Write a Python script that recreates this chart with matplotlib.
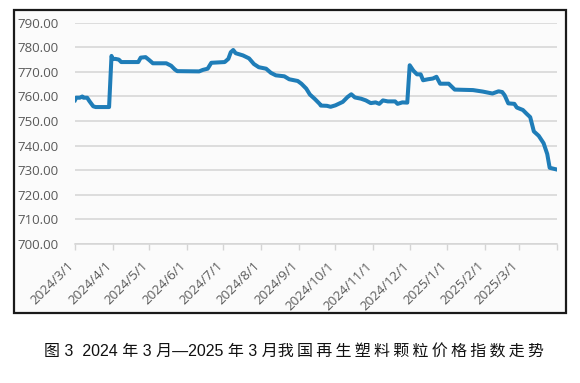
import matplotlib.pyplot as plt
import matplotlib.patches as patches
import matplotlib.transforms as mtransforms
import pandas as pd

# roughly
dates = [
    "2024-03-01", "2024-03-02", "2024-03-05", "2024-03-07", "2024-03-08", "2024-03-11",
    "2024-03-13", "2024-03-16", "2024-03-18", "2024-03-29", "2024-03-31", "2024-04-01",
    "2024-04-03", "2024-04-06", "2024-04-08", "2024-04-22", "2024-04-24", "2024-04-28",
    "2024-05-01", "2024-05-04", "2024-05-15", "2024-05-19", "2024-05-22", "2024-05-24",
    "2024-06-11", "2024-06-14", "2024-06-18", "2024-06-21", "2024-07-02", "2024-07-05",
    "2024-07-07", "2024-07-09", "2024-07-11", "2024-07-17", "2024-07-22", "2024-07-26",
    "2024-07-30", "2024-08-05", "2024-08-09", "2024-08-13", "2024-08-20", "2024-08-24",
    "2024-08-31", "2024-09-03", "2024-09-07", "2024-09-10", "2024-09-14", "2024-09-18",
    "2024-09-19", "2024-09-24", "2024-09-27", "2024-10-01", "2024-10-07", "2024-10-11",
    "2024-10-14", "2024-10-17", "2024-10-22", "2024-10-26", "2024-10-30", "2024-11-03",
    "2024-11-06", "2024-11-09", "2024-11-13", "2024-11-19", "2024-11-21", "2024-11-25",
    "2024-11-29", "2024-12-01", "2024-12-04", "2024-12-07", "2024-12-10", "2024-12-12",
    "2024-12-16", "2024-12-20", "2024-12-23", "2024-12-26", "2025-01-02", "2025-01-07",
    "2025-01-22", "2025-01-30", "2025-02-07", "2025-02-12", "2025-02-15", "2025-02-17",
    "2025-02-20", "2025-02-25", "2025-02-27", "2025-03-04", "2025-03-07", "2025-03-10",
    "2025-03-13", "2025-03-17", "2025-03-21", "2025-03-24", "2025-03-26", "2025-03-31",
]
index_values = [
    758.5, 759.5, 759.5, 760.0, 759.5, 759.5,
    758.0, 756.0, 755.7, 755.7, 776.5, 775.2,
    775.3, 775.0, 774.0, 774.0, 775.8, 776.0,
    774.8, 773.5, 773.5, 772.5, 771.0, 770.3,
    770.2, 770.8, 771.3, 773.7, 774.0, 775.3,
    778.0, 778.9, 777.6, 776.7, 775.5, 773.2,
    771.9, 771.3, 769.6, 768.6, 768.2, 767.0,
    766.3, 765.2, 763.2, 760.8, 759.0, 757.0,
    756.3, 756.2, 755.8, 756.4, 757.8, 759.8,
    760.9, 759.6, 759.1, 758.4, 757.3, 757.6,
    757.0, 758.4, 758.0, 758.0, 757.0, 757.6,
    757.5, 772.7, 770.5, 769.0, 769.0, 766.6,
    767.0, 767.3, 768.0, 765.2, 765.2, 762.8,
    762.6, 762.0, 761.2, 762.1, 761.8, 760.5,
    757.2, 757.0, 755.5, 754.5, 753.0, 751.6,
    745.8, 744.0, 741.0, 736.6, 731.0, 730.4,
]
month_ticks = pd.date_range("2024-03-01", "2025-04-01", freq="MS")
y_ticks = [700, 710, 720, 730, 740, 750, 760, 770, 780, 790]
caption_head = "图 3  2024 年 3 月—2025 年 3 月"
caption_tail = "我国再生塑料颗粒价格指数走势"

df = pd.DataFrame({"date": pd.to_datetime(dates), "value": index_values})

fig = plt.figure(figsize=(5.8, 3.83), dpi=100)
fig.patch.set_facecolor("white")

# black frame around the chart block, kept behind the axes
frame = patches.Rectangle((0.024, 0.183), 0.952, 0.791, transform=fig.transFigure,
                          facecolor="#fbfbfb", edgecolor="#1a1a1a", linewidth=1.6,
                          zorder=-5)
fig.patches.append(frame)

ax = fig.add_axes([0.1293, 0.3629, 0.831, 0.5778])
ax.set_facecolor("#fbfbfb")
ax.plot(df["date"], df["value"], color="#1f7db8", linewidth=2.9, solid_joinstyle="round")

ax.set_ylim(700, 790)
ax.set_yticks(y_ticks)
ax.set_yticklabels([f"{v:.2f}" for v in y_ticks])
ax.set_xlim(month_ticks[0], month_ticks[-1])
ax.set_xticks(month_ticks)
labels = [f"{d.year}/{d.month}/1" for d in month_ticks[:-1]] + [""]
ax.set_xticklabels(labels, rotation=45, ha="right", rotation_mode="anchor")

ax.grid(axis="y", color="#d4d4d4", linewidth=1.1)
ax.set_axisbelow(True)
for side in ["top", "right", "left"]:
    ax.spines[side].set_visible(False)
ax.spines["bottom"].set_color("#d4d4d4")
ax.spines["bottom"].set_linewidth(1.1)
ax.tick_params(axis="y", length=0, pad=12, labelsize=9.5, labelcolor="#595959")
ax.tick_params(axis="x", length=4, width=1, color="#d4d4d4", pad=7,
               labelsize=9.5, labelcolor="#595959")
# excel puts the rotated labels a little left of their ticks
shift = mtransforms.ScaledTranslation(-5.5 / 72, 0, fig.dpi_scale_trans)
for lab in ax.get_xticklabels():
    lab.set_family("Open Sans")
    lab.set_transform(lab.get_transform() + shift)
for lab in ax.get_yticklabels():
    lab.set_family("Open Sans")

# the caption in the reference is letter-spaced, thin spaces between the hanzi
caption = caption_head + "\u2009".join(caption_tail)
fig.text(0.507, 0.081, caption, ha="center", va="center", fontsize=11.5,
         family=["Liberation Sans", "Noto Sans CJK SC"], color="#111111")

fig.savefig("out.png", dpi=100, facecolor="white")
